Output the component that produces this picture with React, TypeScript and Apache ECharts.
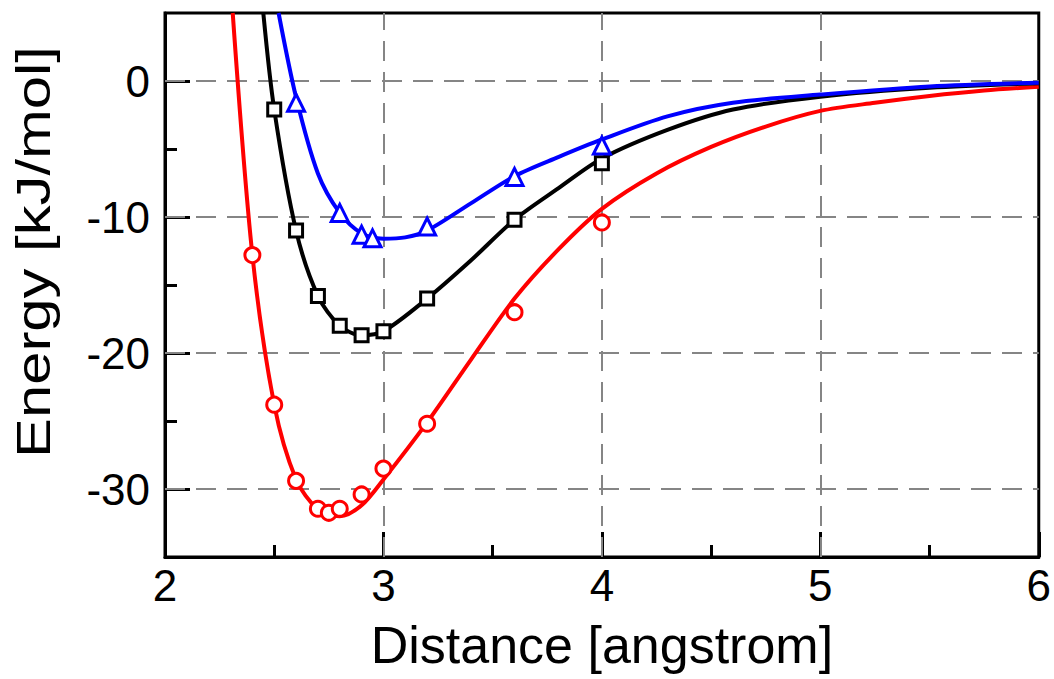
import React, { useEffect, useRef } from "react";
import * as echarts from "echarts";

// ---- data ----
const xTicks = [2, 3, 4, 5, 6];
const yMajorTicks = [-30, -20, -10, 0];
const yMinorTicks = [-25, -15, -5];
const xGrid = [3, 4, 5];
const yGrid = [-30, -20, -10, 0];

// red (circles)
const redPtsX = [2.4, 2.5, 2.6, 2.7, 2.75, 2.8, 2.9, 3.0, 3.2, 3.6, 4.0];
const redPtsY = [-12.8, -23.8, -29.4, -31.45, -31.75, -31.45, -30.4, -28.5, -25.2, -17.0, -10.4];
const redFitX = [2.31, 2.4, 2.5, 2.6, 2.7, 2.8, 2.9, 3.0, 3.2, 3.4, 3.6, 3.8, 4.0, 4.25, 4.5, 4.75, 5.0, 5.25, 5.5, 5.75, 6.0];
const redFitY = [5, -12.8, -23.8, -29.3, -31.5, -32.0, -31.2, -29.3, -25.1, -20.5, -16.0, -12.4, -9.4, -6.8, -4.85, -3.35, -2.2, -1.6, -1.1, -0.7, -0.42];

// black (squares)
const blackPtsX = [2.5, 2.6, 2.7, 2.8, 2.9, 3.0, 3.2, 3.6, 4.0];
const blackPtsY = [-2.1, -11.0, -15.8, -18.0, -18.7, -18.4, -16.0, -10.2, -6.05];
const blackFitX = [2.45, 2.5, 2.6, 2.7, 2.8, 2.9, 3.0, 3.2, 3.4, 3.6, 3.8, 4.0, 4.3, 4.6, 5.0, 5.5, 6.0];
const blackFitY = [5, -2.1, -11.0, -15.8, -18.0, -18.7, -18.4, -16.0, -13.2, -10.2, -7.9, -5.7, -3.6, -2.1, -1.15, -0.5, -0.17];

// blue (triangles)
const bluePtsX = [2.6, 2.8, 2.9, 2.95, 3.2, 3.6, 4.0];
const bluePtsY = [-1.6, -9.7, -11.3, -11.57, -10.7, -7.05, -4.75];
const blueFitX = [2.52, 2.6, 2.7, 2.8, 2.9, 3.0, 3.1, 3.2, 3.4, 3.6, 3.8, 4.0, 4.3, 4.6, 5.0, 5.5, 6.0];
const blueFitY = [5, -1.2, -6.8, -9.7, -11.2, -11.6, -11.5, -11.0, -9.0, -7.0, -5.6, -4.3, -2.6, -1.6, -1.0, -0.4, -0.12];

const xName = "Distance [angstrom]";
const yName = "Energy [kJ/mol]";

const FONT = "'Liberation Sans', Arial, sans-serif";
const zip = (xs: number[], ys: number[]) => xs.map((x, i) => [x, ys[i]]);

export default function App() {
  const ref = useRef<HTMLDivElement>(null);
  useEffect(() => {
    if (!ref.current) return;
    const chart = echarts.init(ref.current, null, { renderer: "svg" });
    const dash = { color: "#858585", width: 2, type: [20, 11] as any };
    const tickStyle = { color: "#000", width: 3 };
    const fit = (name: string, xs: number[], ys: number[], color: string) => ({
      type: "line",
      name,
      data: zip(xs, ys),
      showSymbol: false,
      symbol: "none",
      smooth: 0.3,
      clip: true,
      z: 5,
      lineStyle: { color, width: 4 },
      silent: true,
    });
    const pts = (name: string, xs: number[], ys: number[], color: string, symbol: string, size: number) => ({
      type: "scatter",
      name,
      data: zip(xs, ys),
      symbol,
      symbolSize: size,
      z: 6,
      itemStyle: { color: "#fff", borderColor: color, borderWidth: 3, opacity: 1 },
      silent: true,
    });
    chart.setOption({
      animation: false,
      backgroundColor: "#fff",
      grid: {
        left: 165,
        right: 14,
        top: 13,
        bottom: 122,
        show: true,
        borderColor: "#000",
        borderWidth: 3,
        backgroundColor: "transparent",
      },
      xAxis: {
        type: "value",
        min: 2,
        max: 6,
        interval: 1,
        z: 3,
        name: xName,
        nameLocation: "middle",
        nameGap: 62,
        nameTextStyle: { fontSize: 52, color: "#000", fontFamily: FONT },
        axisLine: { show: true, onZero: false, lineStyle: tickStyle },
        axisTick: { show: true, inside: true, length: 25, lineStyle: tickStyle, customValues: xTicks },
        minorTick: { show: true, splitNumber: 2, length: 12, lineStyle: tickStyle },
        axisLabel: { fontSize: 44, color: "#000", fontFamily: FONT, margin: 6, customValues: xTicks },
        splitLine: { show: false },
      },
      yAxis: [
        {
          type: "value",
          min: -35,
          max: 5,
          z: 3,
          axisLine: { show: true, onZero: false, lineStyle: tickStyle },
          axisTick: { show: true, inside: true, length: 25, lineStyle: tickStyle, customValues: yMajorTicks },
          axisLabel: { fontSize: 44, color: "#000", fontFamily: FONT, margin: 15, customValues: yMajorTicks },
          splitLine: { show: false },
        },
        {
          type: "value",
          min: -35,
          max: 5,
          z: 3,
          position: "left",
          axisLine: { show: false, onZero: false },
          axisTick: { show: true, inside: true, length: 12, lineStyle: tickStyle, customValues: yMinorTicks },
          axisLabel: { show: false },
          splitLine: { show: false },
        },
      ],
      graphic: [
        {
          type: "text",
          x: 33,
          y: 252,
          rotation: Math.PI / 2,
          scaleX: 1.22,
          style: {
            text: yName,
            fontSize: 49,
            fontFamily: FONT,
            fill: "#000",
            align: "center",
            verticalAlign: "middle",
          },
        },
      ],
      series: [
        {
          type: "line",
          name: "grid",
          data: [],
          z: 1,
          silent: true,
          markLine: {
            silent: true,
            symbol: "none",
            label: { show: false },
            lineStyle: dash,
            animation: false,
            data: [
              ...yGrid.map((v) => ({ yAxis: v })),
              ...xGrid.map((v) => ({ xAxis: v })),
            ],
          },
        },
        fit("red fit", redFitX, redFitY, "#ff0000"),
        fit("black fit", blackFitX, blackFitY, "#000000"),
        fit("blue fit", blueFitX, blueFitY, "#0000ff"),
        pts("red", redPtsX, redPtsY, "#ff0000", "circle", 15),
        pts("black", blackPtsX, blackPtsY, "#000000", "rect", 13),
        pts("blue", bluePtsX, bluePtsY, "#0000ff", "triangle", 17),
      ],
    });
    return () => chart.dispose();
  }, []);
  return (
    <div
      ref={ref}
      style={{ position: "absolute", left: 0, top: 0, width: 1054, height: 679, background: "#fff" }}
    />
  );
}
